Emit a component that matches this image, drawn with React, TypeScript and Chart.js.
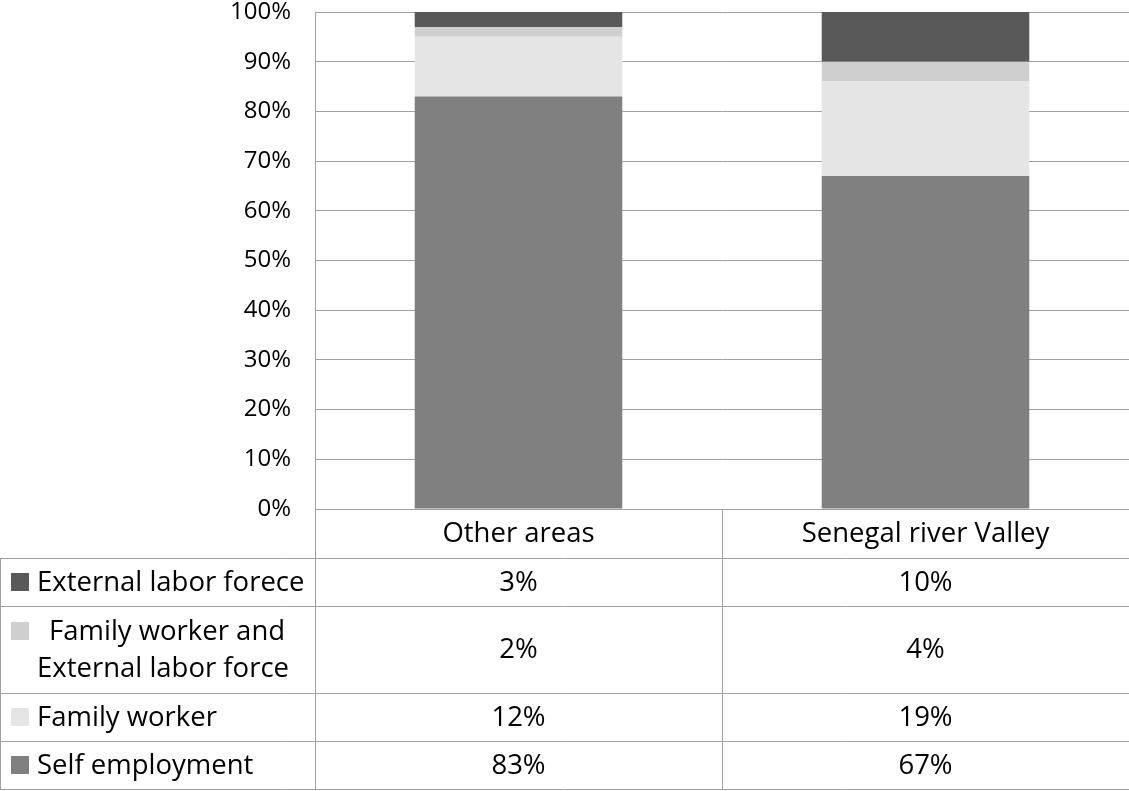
import React, { useEffect, useRef } from "react";
import { Chart, registerables } from "chart.js";
Chart.register(...registerables);

const categories = ["Other areas", "Senegal river Valley"];
const selfEmployment = [83, 67];
const familyWorker = [12, 19];
const familyAndExternal = [2, 4];
const externalLabor = [3, 10];
const tickStep = 10;

const seriesLabels = ["Self employment", "Family worker", "Family worker and External labor force", "External labor forece"];
const seriesColors = ["#808080", "#e5e5e5", "#d0cfd0", "#595959"];
const tableLabelLines = [[" Family worker and", "External labor force"]];

const FONT = '"Open Sans", sans-serif';
const TABLE_FONT_SIZE = 27.5;
const TICK_FONT_SIZE = 24;
const LINE = "#a0a0a0";

const W = 1129;
const H = 791;
// table row edges (pixel layout)
const ROW_EDGES = [509, 558, 606, 693, 741, 789];

const tablePlugin = {
  id: "dataTable",
  afterDraw(chart: any) {
    const { ctx, chartArea, scales } = chart;
    const xs = scales.x;
    const axisX = Math.round(chartArea.left) + 0.5;
    const right = W;
    const ds = chart.data.datasets;
    const n = chart.data.labels.length;
    const centers = [] as number[];
    for (let i = 0; i < n; i++) centers.push(xs.getPixelForValue(i));
    const dividers = [] as number[];
    for (let i = 0; i < n - 1; i++) dividers.push(Math.round((centers[i] + centers[i + 1]) / 2) + 0.5);

    ctx.save();
    ctx.strokeStyle = LINE;
    ctx.lineWidth = 1;
    ctx.beginPath();
    ROW_EDGES.forEach((e, k) => {
      const yy = e + 0.5;
      ctx.moveTo(k === 0 ? axisX : 0, yy);
      ctx.lineTo(right, yy);
    });
    ctx.moveTo(0.5, ROW_EDGES[1]);
    ctx.lineTo(0.5, ROW_EDGES[ROW_EDGES.length - 1] + 1);
    ctx.moveTo(axisX, ROW_EDGES[0]);
    ctx.lineTo(axisX, ROW_EDGES[ROW_EDGES.length - 1] + 1);
    dividers.forEach((d) => {
      ctx.moveTo(d, ROW_EDGES[0]);
      ctx.lineTo(d, ROW_EDGES[ROW_EDGES.length - 1] + 1);
    });
    ctx.stroke();

    ctx.fillStyle = "#000";
    ctx.font = `${TABLE_FONT_SIZE}px ${FONT}`;
    ctx.textBaseline = "middle";
    ctx.textAlign = "center";
    // category header
    const hy = (ROW_EDGES[0] + ROW_EDGES[1]) / 2 + 1;
    chart.data.labels.forEach((l: string, i: number) => ctx.fillText(l, centers[i], hy));

    // rows, top to bottom = reversed dataset order
    const order = ds.map((_: any, i: number) => i).reverse();
    order.forEach((di: number, r: number) => {
      const top = ROW_EDGES[r + 1];
      const bot = ROW_EDGES[r + 2];
      const cy = (top + bot) / 2 + 1;
      const d = ds[di];
      ctx.textAlign = "center";
      ctx.fillStyle = "#000";
      d.data.forEach((v: number, i: number) => ctx.fillText(v + "%", centers[i], cy));
      const lines: string[] = d.label.indexOf(" and ") >= 0 ? tableLabelLines[0] : [d.label];
      const lh = 37;
      const firstY = cy - ((lines.length - 1) * lh) / 2;
      ctx.fillStyle = d.backgroundColor;
      ctx.fillRect(11, Math.round(firstY - 10), 18, 18);
      ctx.fillStyle = "#000";
      ctx.textAlign = "left";
      lines.forEach((ln, k) => ctx.fillText(ln.trim(), ln.startsWith(" ") ? 49 : 37, firstY + k * lh));
    });
    ctx.restore();
  },
};

export default function App() {
  const ref = useRef<HTMLCanvasElement>(null);
  useEffect(() => {
    const chart = new Chart(ref.current!, {
      type: "bar",
      data: {
        labels: categories,
        datasets: [
          { label: seriesLabels[0], data: selfEmployment, backgroundColor: seriesColors[0] },
          { label: seriesLabels[1], data: familyWorker, backgroundColor: seriesColors[1] },
          { label: seriesLabels[2], data: familyAndExternal, backgroundColor: seriesColors[2] },
          { label: seriesLabels[3], data: externalLabor, backgroundColor: seriesColors[3] },
        ],
      },
      options: {
        responsive: false,
        animation: false,
        layout: { padding: { left: 0, right: 0, top: 12, bottom: H - ROW_EDGES[0] } },
        plugins: { legend: { display: false }, tooltip: { enabled: false } },
        datasets: { bar: { categoryPercentage: 1, barPercentage: 0.51 } },
        scales: {
          x: { stacked: true, display: false },
          y: {
            stacked: true,
            min: 0,
            max: 100,
            ticks: {
              stepSize: tickStep,
              padding: 24,
              color: "#000",
              font: { family: FONT, size: TICK_FONT_SIZE },
              callback: (v: any) => v + "%",
            },
            grid: { color: LINE, lineWidth: 1, drawTicks: false },
            border: { color: LINE, width: 1 },
            afterFit: (s: any) => {
              s.width = 315;
              s.paddingTop = 0;
              s.paddingBottom = 0;
            },
          },
        },
      },
      plugins: [tablePlugin],
    });
    return () => chart.destroy();
  }, []);
  return (
    <div style={{ position: "fixed", left: 0, top: 0, width: W, height: H, background: "#fff" }}>
      <canvas ref={ref} width={W} height={H} style={{ display: "block" }} />
    </div>
  );
}
